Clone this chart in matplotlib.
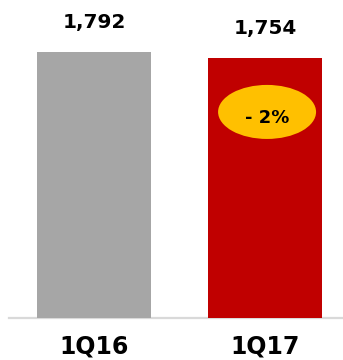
import matplotlib
matplotlib.use("Agg")
import matplotlib.pyplot as plt
from matplotlib.patches import Ellipse

# Quarterly figures
quarters = ["1Q16", "1Q17"]
values = [1792, 1754]
bar_colors = ["#A6A6A6", "#C00000"]

W, H, DPI = 343, 360, 100
fig = plt.figure(figsize=(W / DPI, H / DPI), dpi=DPI)
ax = fig.add_axes([0, 0, 1, 1])
ax.set_axis_off()

x = list(range(len(quarters)))
ax.bar(x, values, width=0.667, color=bar_colors, zorder=2)
ax.set_xlim(-0.5497, 1.456)
ax.set_ylim(-283, 2142)

# Baseline rule
ax.axhline(0, xmin=9 / W, xmax=342 / W, color="#D9D9D9", lw=1.6, zorder=1)

font = dict(family="DejaVu Sans", weight="bold", color="black")

# Value labels above bars
for xi, v in zip(x, values):
    ax.annotate(f"{v:,}", xy=(xi, v), xytext=(0, 24), textcoords="offset pixels",
                ha="center", va="baseline", fontsize=14.4, **font)

# Category labels below the baseline
for xi, q in zip(x, quarters):
    ax.annotate(q, xy=(xi, 0), xytext=(0, -36), textcoords="offset pixels",
                ha="center", va="baseline", fontsize=17, **font)

# Year-over-year change badge on the latest bar
change = round((values[1] / values[0] - 1) * 100)
sign = "-" if change < 0 else "+"
badge_x = x[1] + 0.012
ax.add_patch(Ellipse((badge_x, 1388), width=0.573, height=364,
                     facecolor="#FFC000", edgecolor="none", zorder=3))
ax.text(badge_x, 1314, f"{sign} {abs(change)}%", ha="center", va="baseline",
        fontsize=13, zorder=4, **font)

fig.savefig("out.png", dpi=DPI)
